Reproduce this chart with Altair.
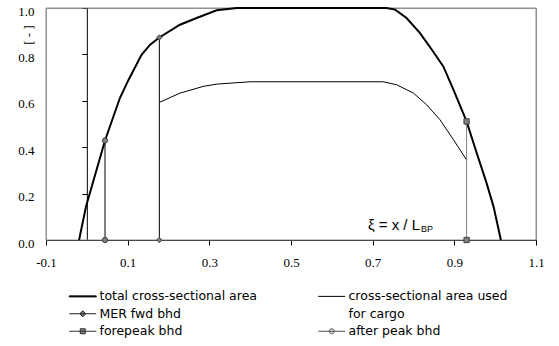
import altair as alt
import pandas as pd

# Sectional area curves along the hull, xi = x / L_BP (area normalised to midship)
total_x = [-0.019, -0.002, 0.0445, 0.081, 0.102, 0.134, 0.155, 0.1776, 0.228, 0.269, 0.318, 0.367,
           0.734, 0.755, 0.783, 0.816, 0.845, 0.873, 0.898, 0.930, 0.955, 0.979, 0.996, 1.014]
total_y = [0.0, 0.144, 0.429, 0.612, 0.690, 0.798, 0.842, 0.873, 0.928, 0.957, 0.990, 1.0,
           1.0, 0.993, 0.957, 0.892, 0.820, 0.748, 0.647, 0.511, 0.374, 0.245, 0.144, 0.0]

cargo_x = [0.1776, 0.228, 0.285, 0.318, 0.400, 0.726, 0.759, 0.800, 0.832, 0.865, 0.898, 0.930]
cargo_y = [0.593, 0.633, 0.662, 0.672, 0.682, 0.682, 0.669, 0.633, 0.583, 0.518, 0.432, 0.345]

# Bulkhead positions and the section area they cut
bhd_names = ["after peak bhd", "MER fwd bhd", "forepeak bhd"]
bhd_x = [0.0445, 0.1776, 0.930]
bhd_top = [0.429, 0.873, 0.511]
bhd_shapes = ["circle", "diamond", "square"]

x_domain = [-0.1, 1.1]
y_domain = [0.0, 1.0]
x_ticks = [-0.1, 0.1, 0.3, 0.5, 0.7, 0.9, 1.1]
y_ticks = [0.0, 0.2, 0.4, 0.6, 0.8, 1.0]

# Axis caption inside the plot
caption_x = [0.816]
caption_y = [0.043]

# legend entries, listed column by column
legend_entries = ["total cross-sectional area", "MER fwd bhd", "forepeak bhd",
                  "cross-sectional area used", "for cargo", "after peak bhd"]
legend_paths = [
    "M-2.7,-0.1H2.7V0.1H-2.7Z",
    "M-2.7,0H2.7M0,-0.6L0.6,0L0,0.6L-0.6,0Z",
    "M-2.7,0H2.7M-0.5,-0.5H0.5V0.5H-0.5Z",
    "M-2.7,0H2.7",
    "M0,0",
    "M-2.7,0H2.7M0.5,0A0.5,0.5 0 1,1 -0.5,0A0.5,0.5 0 1,1 0.5,0Z",
]
legend_fills = ["black", "#808080", "#808080", "transparent", "transparent", "#e0e0e0"]
legend_strokes = ["black", "#202020", "#303030", "black", "transparent", "#505050"]

total_df = pd.DataFrame({"xi": total_x, "area": total_y})
cargo_df = pd.DataFrame({"xi": cargo_x, "area": cargo_y})
bhd_df = pd.DataFrame({"name": bhd_names, "xi": bhd_x, "top": bhd_top})
caption_df = pd.DataFrame({"xi": caption_x, "area": caption_y})
legend_df = pd.DataFrame({"entry": legend_entries})

xs = alt.Scale(domain=x_domain, nice=False, zero=False)
ys = alt.Scale(domain=y_domain, nice=False, zero=False)

serif = "'Liberation Serif', 'Times New Roman', Times, 'DejaVu Serif', serif"

x_axis = alt.Axis(
    values=x_ticks, grid=False, title=None,
    labelExpr="datum.value < 0 ? '-' + format(-datum.value, '.1f') : format(datum.value, '.1f')",
    domainColor="black", domainWidth=1, tickColor="black", tickSize=5, tickWidth=1,
    labelPadding=11, labelFont=serif, labelFontSize=13, labelColor="black",
    labelFlush=False, labelOverlap=False,
)

# left-hand axis: labels and title only
y_axis_labels = alt.Axis(
    orient="left", values=y_ticks, format=".1f", grid=False,
    domain=False, ticks=False, tickSize=0,
    labelPadding=12, labelFont=serif, labelFontSize=13, labelColor="black",
    labelOffset=3, labelFlush=False, labelOverlap=False,
    title="[ - ]", titleFont=serif, titleFontSize=13, titleFontWeight="normal",
    titleColor="black", titleAngle=270, titleBaseline="middle", titleAlign="center",
    titleX=-18, titleY=26.5,
)

# axis line crossing at xi = 0, ticks only
y_axis_zero = alt.Axis(
    orient="left", values=y_ticks, grid=False, labels=False, title=None,
    offset=-490 / 12, domainColor="black", domainWidth=1,
    tickColor="black", tickSize=5, tickWidth=1,
)

X = alt.X("xi:Q", scale=xs, axis=x_axis)

# plot-area frame (gray border, left/top/right)
frame = alt.Chart(pd.DataFrame({"k": [0]})).mark_rect(
    fill="transparent", stroke="#909090", strokeWidth=1
).encode(
    x=alt.XDatum(x_domain[0], scale=xs, axis=x_axis),
    x2=alt.datum(x_domain[1]),
    y=alt.YDatum(y_domain[0], scale=ys, axis=None),
    y2=alt.datum(y_domain[1]),
)

total = alt.Chart(total_df).mark_line(color="black", strokeWidth=2).encode(
    x=X, y=alt.Y("area:Q", scale=ys, axis=y_axis_labels)
)
cargo = alt.Chart(cargo_df).mark_line(color="black", strokeWidth=1).encode(
    x=X, y=alt.Y("area:Q", scale=ys, axis=y_axis_zero)
)

bhd_lines = alt.Chart(bhd_df).mark_rule(strokeWidth=1).encode(
    x=X,
    y=alt.Y("top:Q", scale=ys, axis=None),
    y2=alt.datum(0),
    color=alt.condition(alt.datum.name == "forepeak bhd", alt.value("#808080"), alt.value("black")),
)

markers = []
for name, shape in zip(bhd_names, bhd_shapes):
    sub = alt.Chart(bhd_df).transform_filter(alt.datum.name == name)
    style = dict(shape=shape, filled=True, fill="#808080", stroke="#404040",
                 strokeWidth=1, size=28, opacity=1)
    markers.append(sub.mark_point(**style).encode(
        x=X, y=alt.Y("top:Q", scale=ys, axis=None)))
    markers.append(sub.mark_point(**style).encode(
        x=X, y=alt.YDatum(0, scale=ys, axis=None)))

caption_main = alt.Chart(caption_df).mark_text(
    text="ξ = x / L", align="right", baseline="alphabetic",
    font="Liberation Sans", fontSize=15, color="black",
).encode(x=X, y=alt.Y("area:Q", scale=ys, axis=None))
caption_sub = alt.Chart(caption_df).mark_text(
    text="BP", align="left", baseline="alphabetic", dx=1, dy=2,
    font="Liberation Sans", fontSize=9, color="black",
).encode(x=X, y=alt.Y("area:Q", scale=ys, axis=None))

legend = alt.Legend(
    orient="none", legendX=30.5, legendY=282, columns=2, title=None,
    labelFont="DejaVu Sans", labelFontSize=12.5, labelColor="black", labelLimit=400,
    symbolSize=100, symbolStrokeWidth=1, labelOffset=10.5,
    rowPadding=4.5, columnPadding=58, padding=0,
)

# hidden carrier for the legend (placed outside the clipped plot area)
legend_layer = alt.Chart(legend_df).mark_point(clip=True, size=100, opacity=1, filled=True).encode(
    x=alt.XDatum(-5.0, scale=xs),
    y=alt.YDatum(-5.0, scale=ys, axis=None),
    shape=alt.Shape("entry:N", scale=alt.Scale(domain=legend_entries, range=legend_paths), legend=legend),
    fill=alt.Fill("entry:N", scale=alt.Scale(domain=legend_entries, range=legend_fills), legend=legend),
    stroke=alt.Stroke("entry:N", scale=alt.Scale(domain=legend_entries, range=legend_strokes), legend=legend),
)

chart = alt.layer(
    frame, total, cargo, bhd_lines, *markers, caption_main, caption_sub, legend_layer
).resolve_axis(y="independent").properties(
    width=490, height=232,
    autosize=alt.AutoSizeParams(type="none"),
    padding={"left": 46, "top": 8, "right": 23, "bottom": 106},
    background="white",
).configure_view(stroke="#909090", strokeWidth=1)

chart.save("out.html", embed_options={"renderer": "svg", "actions": False})
